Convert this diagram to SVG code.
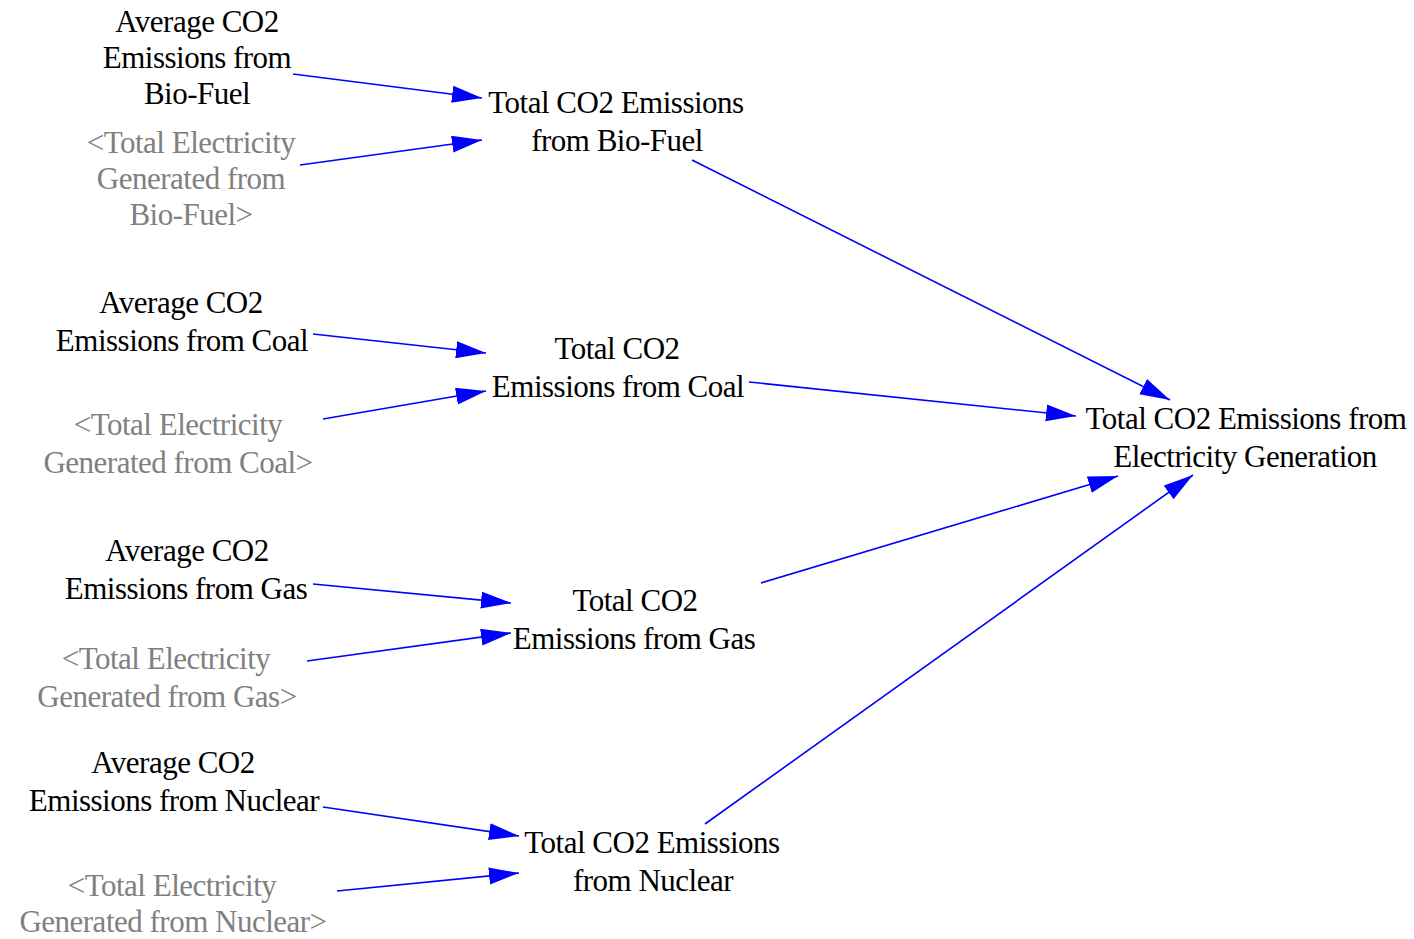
<svg xmlns="http://www.w3.org/2000/svg" width="1414" height="939" viewBox="0 0 1414 939">
  <defs>
    <style>
      text { font-family: "Liberation Serif", "Times New Roman", serif; font-size: 31px; letter-spacing: -0.5px; text-anchor: middle; fill: #000; }
      .shadow text { fill: #808080; }
      .link { stroke: #0000ff; stroke-width: 1.6; fill: none; marker-end: url(#head); }
    </style>
    <marker id="head" markerUnits="userSpaceOnUse" markerWidth="31" markerHeight="18" refX="30" refY="8.5" orient="auto">
      <path d="M0,0 L30,8.5 L0,17 z" fill="#0000ff"/>
    </marker>
  </defs>
  <rect width="1414" height="939" fill="#fff"/>

  <g id="connectors">
    <line class="link" x1="293" y1="74" x2="482" y2="98"/>
    <line class="link" x1="300" y1="165" x2="482" y2="140"/>
    <line class="link" x1="692" y1="160" x2="1170" y2="400"/>
    <line class="link" x1="313" y1="334" x2="486" y2="353"/>
    <line class="link" x1="323" y1="419" x2="486" y2="391"/>
    <line class="link" x1="749" y1="382" x2="1076" y2="416"/>
    <line class="link" x1="313" y1="584" x2="511" y2="603"/>
    <line class="link" x1="307" y1="661" x2="511" y2="633"/>
    <line class="link" x1="761" y1="583" x2="1118" y2="476"/>
    <line class="link" x1="323" y1="807" x2="519" y2="836"/>
    <line class="link" x1="337" y1="891" x2="519" y2="873"/>
    <line class="link" x1="705" y1="824" x2="1193" y2="475"/>
  </g>

  <g id="avg-biofuel">
    <text x="197" y="32">Average CO2</text>
    <text x="197" y="68">Emissions from</text>
    <text x="197" y="104">Bio-Fuel</text>
  </g>
  <g id="elec-biofuel" class="shadow">
    <text x="191" y="153">&lt;Total Electricity</text>
    <text x="191" y="189">Generated from</text>
    <text x="191" y="225">Bio-Fuel&gt;</text>
  </g>
  <g id="total-biofuel">
    <text x="616" y="113">Total CO2 Emissions</text>
    <text x="617" y="151">from Bio-Fuel</text>
  </g>

  <g id="avg-coal">
    <text x="181" y="313">Average CO2</text>
    <text x="182" y="351">Emissions from Coal</text>
  </g>
  <g id="elec-coal" class="shadow">
    <text x="178" y="435">&lt;Total Electricity</text>
    <text x="178" y="473">Generated from Coal&gt;</text>
  </g>
  <g id="total-coal">
    <text x="617" y="359">Total CO2</text>
    <text x="618" y="397">Emissions from Coal</text>
  </g>

  <g id="total-generation">
    <text x="1246" y="429">Total CO2 Emissions from</text>
    <text x="1245" y="467">Electricity Generation</text>
  </g>

  <g id="avg-gas">
    <text x="187" y="561">Average CO2</text>
    <text x="186" y="599">Emissions from Gas</text>
  </g>
  <g id="elec-gas" class="shadow">
    <text x="166" y="669">&lt;Total Electricity</text>
    <text x="167" y="707">Generated from Gas&gt;</text>
  </g>
  <g id="total-gas">
    <text x="635" y="611">Total CO2</text>
    <text x="634" y="649">Emissions from Gas</text>
  </g>

  <g id="avg-nuclear">
    <text x="173" y="773">Average CO2</text>
    <text x="174" y="811">Emissions from Nuclear</text>
  </g>
  <g id="elec-nuclear" class="shadow">
    <text x="172" y="896">&lt;Total Electricity</text>
    <text x="173" y="932">Generated from Nuclear&gt;</text>
  </g>
  <g id="total-nuclear">
    <text x="652" y="853">Total CO2 Emissions</text>
    <text x="653" y="891">from Nuclear</text>
  </g>
</svg>
